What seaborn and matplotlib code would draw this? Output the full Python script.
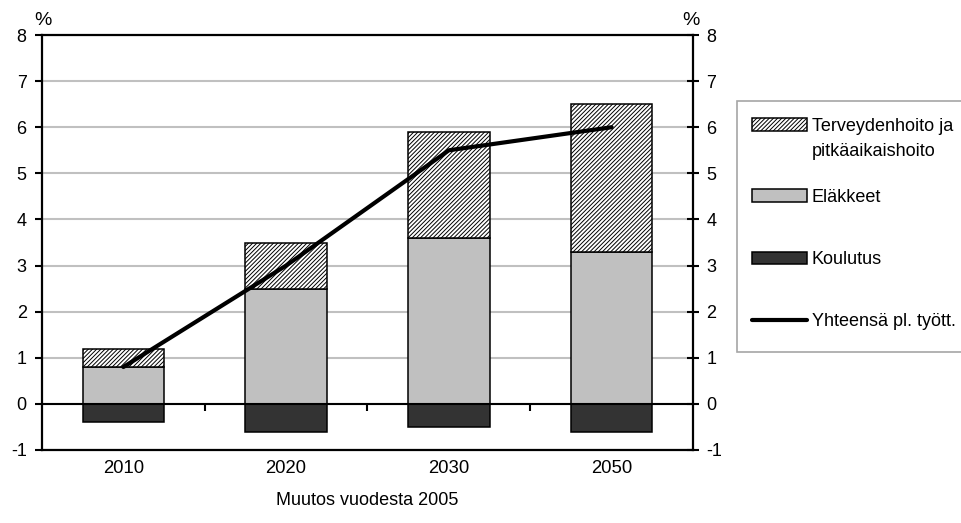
import numpy as np
import matplotlib
matplotlib.use("Agg")
import matplotlib.pyplot as plt
from matplotlib.patches import Patch, Rectangle
from matplotlib.lines import Line2D
import seaborn as sns

# Change from 2005, percentage points
years = ["2010", "2020", "2030", "2050"]
koulutus = [-0.4, -0.6, -0.5, -0.6]
elakkeet = [0.8, 2.5, 3.6, 3.3]
terveys = [0.4, 1.0, 2.3, 3.2]
yhteensa = [0.8, 3.0, 5.5, 6.0]

lab_terveys = ["Terveydenhoito ja", "pitkäaikaishoito"]
lab_elakkeet = "Eläkkeet"
lab_koulutus = "Koulutus"
lab_yhteensa = "Yhteensä pl. tyött."
xlabel = "Muutos vuodesta 2005"
yticks = list(range(-1, 9))

sns.set_style("white")
plt.rcParams["font.family"] = ["Liberation Sans", "DejaVu Sans"]
plt.rcParams["axes.unicode_minus"] = False
plt.rcParams["hatch.linewidth"] = 0.7
plt.rcParams["text.color"] = "black"
plt.rcParams["axes.labelcolor"] = "black"

C_GREY = "#C0C0C0"
C_DARK = "#333333"
FS = 13
HATCH = "////////"

fig = plt.figure(figsize=(9.62, 5.23), dpi=100)
ax = fig.add_axes([42 / 962, 1 - 450 / 523, (693 - 42) / 962, (450 - 35) / 523])

bar_kw = dict(width=0.5, edgecolor="black", linewidth=1.1, saturation=1, ax=ax)
sns.barplot(x=years, y=koulutus, color=C_DARK, **bar_kw)
sns.barplot(x=years, y=elakkeet, color=C_GREY, **bar_kw)
sns.barplot(x=years, y=terveys, bottom=elakkeet, color="white", hatch=HATCH, **bar_kw)
sns.lineplot(x=np.arange(len(years)), y=yhteensa, color="black", linewidth=3.0,
             ax=ax, zorder=5)

ax.set_xlim(-0.5, len(years) - 0.5)
ax.set_ylim(-1, 8)
ax.set_yticks(yticks)
ax.set_xticks(range(len(years)))
ax.set_xticklabels(years)
ax.set_axisbelow(True)
ax.yaxis.grid(True, color=C_GREY, linewidth=1.5)
ax.xaxis.grid(False)

# zero line with category separators
ax.axhline(0, color="black", linewidth=1.5, zorder=4)
ax.vlines(np.arange(len(years) - 1) + 0.5, -0.16, 0, color="black", linewidth=1.5, zorder=4)

for s in ax.spines.values():
    s.set_visible(True)
    s.set_color("black")
    s.set_linewidth(1.6)

ax.tick_params(axis="y", left=True, direction="out", length=5, width=1.5,
               labelsize=FS, pad=6, colors="black")
ax.tick_params(axis="x", bottom=False, length=0, labelsize=FS + 0.3, pad=7, colors="black")
ax.set_xlabel(xlabel, fontsize=FS, labelpad=11, color="black")
ax.set_ylabel("")

ax2 = ax.twinx()
ax2.set_ylim(ax.get_ylim())
ax2.set_yticks(yticks)
ax2.tick_params(axis="y", right=True, direction="inout", length=9, width=1.5,
                labelsize=FS, pad=5, colors="black")
for s in ax2.spines.values():
    s.set_visible(False)

ax.annotate("%", xy=(0, 1), xycoords="axes fraction", xytext=(1, 4),
            textcoords="offset points", ha="center", va="bottom", fontsize=FS + 1)
ax.annotate("%", xy=(1, 1), xycoords="axes fraction", xytext=(-1.5, 4),
            textcoords="offset points", ha="center", va="bottom", fontsize=FS + 1)

# legend frame
fig.patches.append(Rectangle((737 / 962, 1 - 352 / 523), 0.3, (352 - 101) / 523,
                             transform=fig.transFigure, facecolor="white",
                             edgecolor="#A6A6A6", linewidth=1.2, zorder=0))

leg_kw = dict(frameon=False, fontsize=FS, handlelength=3.05, handleheight=0.7,
              handletextpad=0.25, borderpad=0, borderaxespad=0, loc="upper left",
              labelcolor="black")
h1 = [Patch(facecolor="white", edgecolor="black", hatch=HATCH, linewidth=1.1)]
leg1 = fig.legend(h1, [lab_terveys[0]], bbox_to_anchor=(752 / 962, 1 - 118 / 523), **leg_kw)
fig.text(812 / 962, 1 - 151 / 523, lab_terveys[1], fontsize=FS, ha="left", va="center",
         color="black")
h2 = [Patch(facecolor=C_GREY, edgecolor="black", linewidth=1.1),
      Patch(facecolor=C_DARK, edgecolor="black", linewidth=1.1),
      Line2D([0], [0], color="black", linewidth=3.0)]
leg2 = fig.legend(h2, [lab_elakkeet, lab_koulutus, lab_yhteensa], labelspacing=2.5,
                  bbox_to_anchor=(752 / 962, 1 - 189 / 523), **leg_kw)

fig.savefig("out.png", dpi=100)
